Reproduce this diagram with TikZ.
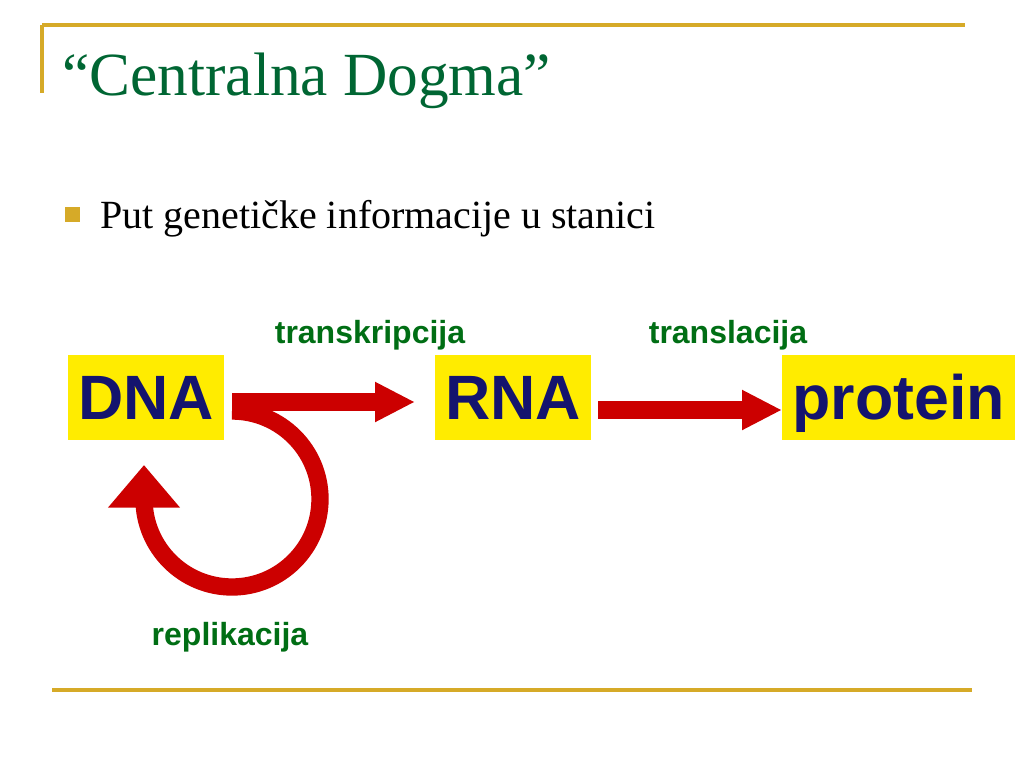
\documentclass[tikz,border=0pt]{standalone}
\usepackage{fontspec}
\setmainfont{Liberation Serif}
\setsansfont{Liberation Sans}
\usetikzlibrary{arrows.meta}
\definecolor{gold}{RGB}{214,170,40}
\definecolor{titlegreen}{RGB}{0,102,51}
\definecolor{labelgreen}{RGB}{0,110,20}
\definecolor{boxyellow}{RGB}{255,236,0}
\definecolor{molnavy}{RGB}{20,20,110}
\definecolor{arrowred}{RGB}{204,0,0}
\tikzset{
  rule/.style={draw=gold, line width=2.4pt},
  molbox/.style={fill=boxyellow, text=molnavy, font=\sffamily\bfseries\fontsize{47}{50}\selectfont,
    minimum height=63.75pt, inner sep=0pt, text height=34pt, text depth=0pt, anchor=west},
  proclabel/.style={text=labelgreen, font=\sffamily\bfseries\fontsize{24}{28}\selectfont},
  flow/.style={draw=arrowred, line width=13pt, -{Triangle[length=30pt,width=28pt]}},
}
\begin{document}
\begin{tikzpicture}[x=0.75pt,y=-0.75pt]

  % --- page frame ---
  \useasboundingbox (0,0) rectangle (1024,768);
  \draw[rule] (42,25) -- (965,25);
  \draw[rule] (42,25) -- (42,93);
  \draw[rule] (52,690) -- (972,690);

  % --- title & bullet ---
  \node[anchor=base west, text=titlegreen, font=\fontsize{46}{50}\selectfont, inner sep=0pt]
    (title) at (62,95) {“Centralna Dogma”};
  \fill[gold] (65,207) rectangle (80,222);
  \node[anchor=base west, font=\fontsize{30}{34}\selectfont, inner sep=0pt]
    (bullet) at (100,228) {Put genetičke informacije u stanici};

  % --- molecules ---
  \node[molbox, minimum width=117pt] (dna) at (68,397) {DNA};
  \node[molbox, minimum width=117pt] (rna) at (435,397) {RNA};
  \node[molbox, minimum width=174.75pt] (prot) at (782,397) {protein};

  % --- flows ---
  \coordinate (dnaout) at (232,402);
  \coordinate (loopend) at (144,465);
  \draw[flow] (dnaout) -- ([xshift=-15pt]dnaout -| rna.west);
  \draw[flow] (598,410) -- (prot.west |- 0,410);
  \draw[flow, -{Triangle[length=32pt,width=52pt]}]
    (232,411) arc[start angle=-90, end angle=180, radius=88] -- (loopend);

  % --- labels ---
  \node[proclabel] (tlab) at (370,335) {transkripcija};
  \node[proclabel] (slab) at (728,335) {translacija};
  \node[proclabel] (rlab) at (230,637) {replikacija};

\end{tikzpicture}
\end{document}
